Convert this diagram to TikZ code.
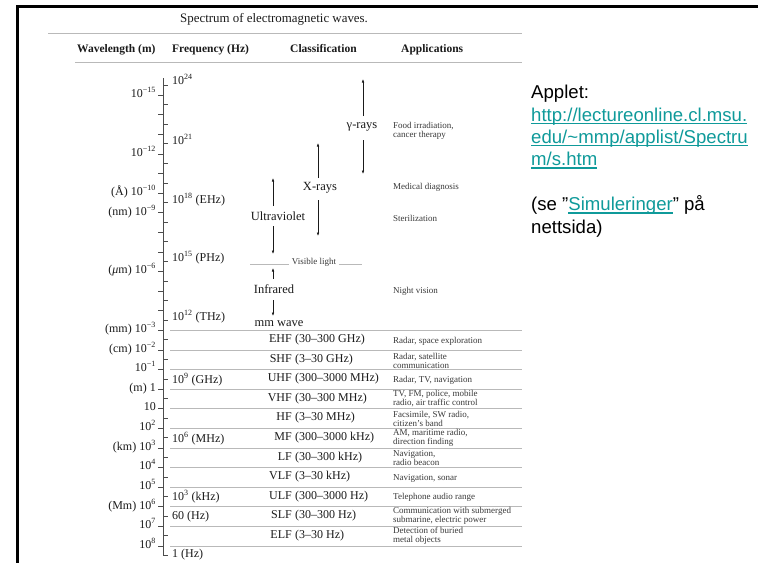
\documentclass[tikz,border=0pt]{standalone}
\usepackage{fontspec}
\setmainfont{Liberation Serif}
\newfontfamily\arialf{Liberation Sans}
\usetikzlibrary{arrows.meta}
\definecolor{linkc}{HTML}{0F9A9A}
\definecolor{ink}{HTML}{1A1A1A}
\newcommand\lnk[1]{\textcolor{linkc}{\setbox0\hbox{#1}\rlap{\rule[-2.9pt]{\wd0}{1.3pt}}\box0}}
\newcommand\pw[1]{10\textsuperscript{#1}}
\begin{document}
\begin{tikzpicture}[x=1pt,y=-1pt,
  every node/.style={inner sep=0pt, text=ink},
  wl/.style={anchor=mid east, font=\fontsize{12}{14}\selectfont},
  fq/.style={anchor=mid west, font=\fontsize{12}{14}\selectfont},
  hd/.style={anchor=mid west, font=\fontsize{11.5}{13}\selectfont\bfseries},
  cls/.style={anchor=mid, font=\fontsize{12.5}{14}\selectfont},
  band/.style={font=\fontsize{12}{14}\selectfont},
  app/.style={anchor=west, align=left, font=\fontsize{9}{9}\selectfont, text=black!78},
  sepline/.style={gray!55, line width=0.6pt},
  tickline/.style={line width=0.5pt, black!70},
  arr/.style={-{Latex[length=3.5pt,width=2.6pt]}, line width=0.6pt, draw=ink},
  frame/.style={line width=3pt, black}
]
\useasboundingbox (0,0) rectangle (758,563);

% frame
\draw[frame] (758,6) -- (17,6) -- (17,563);

% title and header
\node[anchor=mid west, font=\fontsize{12.9}{14}\selectfont] (title) at (180,20) {Spectrum of electromagnetic waves.};
\draw[sepline] (48,33) -- (522,33);
\node[hd] (hwl) at (77,50) {Wavelength (m)};
\node[hd] (hfq) at (172,50) {Frequency (Hz)};
\node[hd] (hcl) at (290,50) {Classification};
\node[hd] (hap) at (401,50) {Applications};
\draw[sepline] (75,62) -- (522,62);

% axis
\draw[tickline] (163,78) -- (163,555);
\foreach \n in {-15,...,8}
  \draw[tickline] (158,{95+19.6*(\n+15)}) -- (163,{95+19.6*(\n+15)});
\foreach \m in {0,...,24}
  \draw[tickline] (163,{95+19.6*(23.48-\m)}) -- (168,{95+19.6*(23.48-\m)});

% wavelength labels
\node[wl] (w15) at (156,95) {\pw{−15}};
\node[wl] (w12) at (156,154) {\pw{−12}};
\node[wl] (w10) at (156,193) {(Å) \pw{−10}};
\node[wl] (w9) at (156,213) {(nm) \pw{−9}};
\node[wl] (w6) at (156,271) {(\textit{μ}m) \pw{−6}};
\node[wl] (w3) at (156,330) {(mm) \pw{−3}};
\node[wl] (w2) at (156,350) {(cm) \pw{−2}};
\node[wl] (w1) at (156,369) {\pw{−1}};
\node[wl] (v0) at (156,389) {(m) 1};
\node[wl] (v1) at (156,408) {10};
\node[wl] (v2) at (156,428) {\pw{2}};
\node[wl] (v3) at (156,448) {(km) \pw{3}};
\node[wl] (v4) at (156,467) {\pw{4}};
\node[wl] (v5) at (156,487) {\pw{5}};
\node[wl] (v6) at (156,507) {(Mm) \pw{6}};
\node[wl] (v7) at (156,526) {\pw{7}};
\node[wl] (v8) at (156,546) {\pw{8}};

% frequency labels
\node[fq] (f24) at (172,82) {\pw{24}};
\node[fq] (f21) at (172,142) {\pw{21}};
\node[fq] (f18) at (172,201) {\pw{18} (EHz)};
\node[fq] (f15) at (172,259) {\pw{15} (PHz)};
\node[fq] (f12) at (172,318) {\pw{12} (THz)};
\node[fq] (f9) at (172,381) {\pw{9} (GHz)};
\node[fq] (f6) at (172,440) {\pw{6} (MHz)};
\node[fq] (f3) at (172,498) {\pw{3} (kHz)};
\node[fq] (f60) at (172,517) {60 (Hz)};
\node[fq] (f0) at (172,555) {1 (Hz)};

% classification (upper)
\node[cls] (gam) at (362,126) {γ-rays};
\coordinate (g0) at (363,79);  \coordinate (g1) at (363,116);
\coordinate (g2) at (363,140); \coordinate (g3) at (363,174);
\draw[arr] (g1) -- (g0);
\draw[arr] (g2) -- (g3);

\node[cls] (xr) at (320,188) {X-rays};
\coordinate (x0) at (318,143); \coordinate (x1) at (318,178);
\coordinate (x2) at (318,200); \coordinate (x3) at (318,236);
\draw[arr] (x1) -- (x0);
\draw[arr] (x2) -- (x3);

\node[cls] (uv) at (278,218) {Ultraviolet};
\coordinate (u0) at (273,178); \coordinate (u1) at (273,206);
\coordinate (u2) at (273,226); \coordinate (u3) at (273,254);
\draw[arr] (u1) -- (u0);
\draw[arr] (u2) -- (u3);

\node[anchor=mid, font=\fontsize{9}{9}\selectfont, text=black!78] (vis) at (314,262) {Visible light};
\coordinate (vl0) at (250,264); \coordinate (vl1) at (289,264);
\coordinate (vr0) at (339,264); \coordinate (vr1) at (362,264);
\draw[sepline] (vl0) -- (vl1);
\draw[sepline] (vr0) -- (vr1);

\node[cls] (ir) at (274,291) {Infrared};
\coordinate (i0) at (273,268); \coordinate (i1) at (273,279);
\coordinate (i2) at (273,300); \coordinate (i3) at (273,316);
\draw[arr] (i1) -- (i0);
\draw[arr] (i2) -- (i3);

\node[cls] (mmw) at (279,324) {mm wave};

% band separators
\foreach \n in {-3,...,8}
  \draw[sepline] (170,{95+19.6*(\n+15)}) -- (522,{95+19.6*(\n+15)});

% bands
\node[band, anchor=mid east] (b1) at (292,340) {EHF};
\node[band, anchor=mid west] (r1) at (295,340) {(30–300 GHz)};
\node[band, anchor=mid east] (b2) at (292,360) {SHF};
\node[band, anchor=mid west] (r2) at (295,360) {(3–30 GHz)};
\node[band, anchor=mid east] (b3) at (292,379) {UHF};
\node[band, anchor=mid west] (r3) at (295,379) {(300–3000 MHz)};
\node[band, anchor=mid east] (b4) at (292,399) {VHF};
\node[band, anchor=mid west] (r4) at (295,399) {(30–300 MHz)};
\node[band, anchor=mid east] (b5) at (292,418) {HF};
\node[band, anchor=mid west] (r5) at (295,418) {(3–30 MHz)};
\node[band, anchor=mid east] (b6) at (292,438) {MF};
\node[band, anchor=mid west] (r6) at (295,438) {(300–3000 kHz)};
\node[band, anchor=mid east] (b7) at (292,458) {LF};
\node[band, anchor=mid west] (r7) at (295,458) {(30–300 kHz)};
\node[band, anchor=mid east] (b8) at (292,477) {VLF};
\node[band, anchor=mid west] (r8) at (295,477) {(3–30 kHz)};
\node[band, anchor=mid east] (b9) at (292,497) {ULF};
\node[band, anchor=mid west] (r9) at (295,497) {(300–3000 Hz)};
\node[band, anchor=mid east] (b10) at (292,516) {SLF};
\node[band, anchor=mid west] (r10) at (295,516) {(30–300 Hz)};
\node[band, anchor=mid east] (b11) at (292,536) {ELF};
\node[band, anchor=mid west] (r11) at (295,536) {(3–30 Hz)};

% applications
\node[app] (a0) at (393,131) {Food irradiation,\\cancer therapy};
\node[app] (a01) at (393,187) {Medical diagnosis};
\node[app] (a02) at (393,218) {Sterilization};
\node[app] (a03) at (393,291) {Night vision};
\node[app] (a1) at (393,341) {Radar, space exploration};
\node[app] (a2) at (393,361) {Radar, satellite\\communication};
\node[app] (a3) at (393,380) {Radar, TV, navigation};
\node[app] (a4) at (393,399) {TV, FM, police, mobile\\radio, air traffic control};
\node[app] (a5) at (393,419) {Facsimile, SW radio,\\citizen's band};
\node[app] (a6) at (393,438) {AM, maritime radio,\\direction finding};
\node[app] (a7) at (393,458) {Navigation,\\radio beacon};
\node[app] (a8) at (393,478) {Navigation, sonar};
\node[app] (a9) at (393,497) {Telephone audio range};
\node[app] (a10) at (393,516) {Communication with submerged\\submarine, electric power};
\node[app] (a11) at (393,536) {Detection of buried\\metal objects};

% applet note
\node[anchor=base west, align=left, text=black, font=\arialf\fontsize{18.6}{22.4}\selectfont] (applet) at (531,233)
  {Applet:\\
   \lnk{http://lectureonline.cl.msu.}\\
   \lnk{edu/\textasciitilde mmp/applist/Spectru}\\
   \lnk{m/s.htm}\\
   \mbox{}\\
   (se ”\lnk{Simuleringer}” på\\
   nettsida)};
\end{tikzpicture}
\end{document}
